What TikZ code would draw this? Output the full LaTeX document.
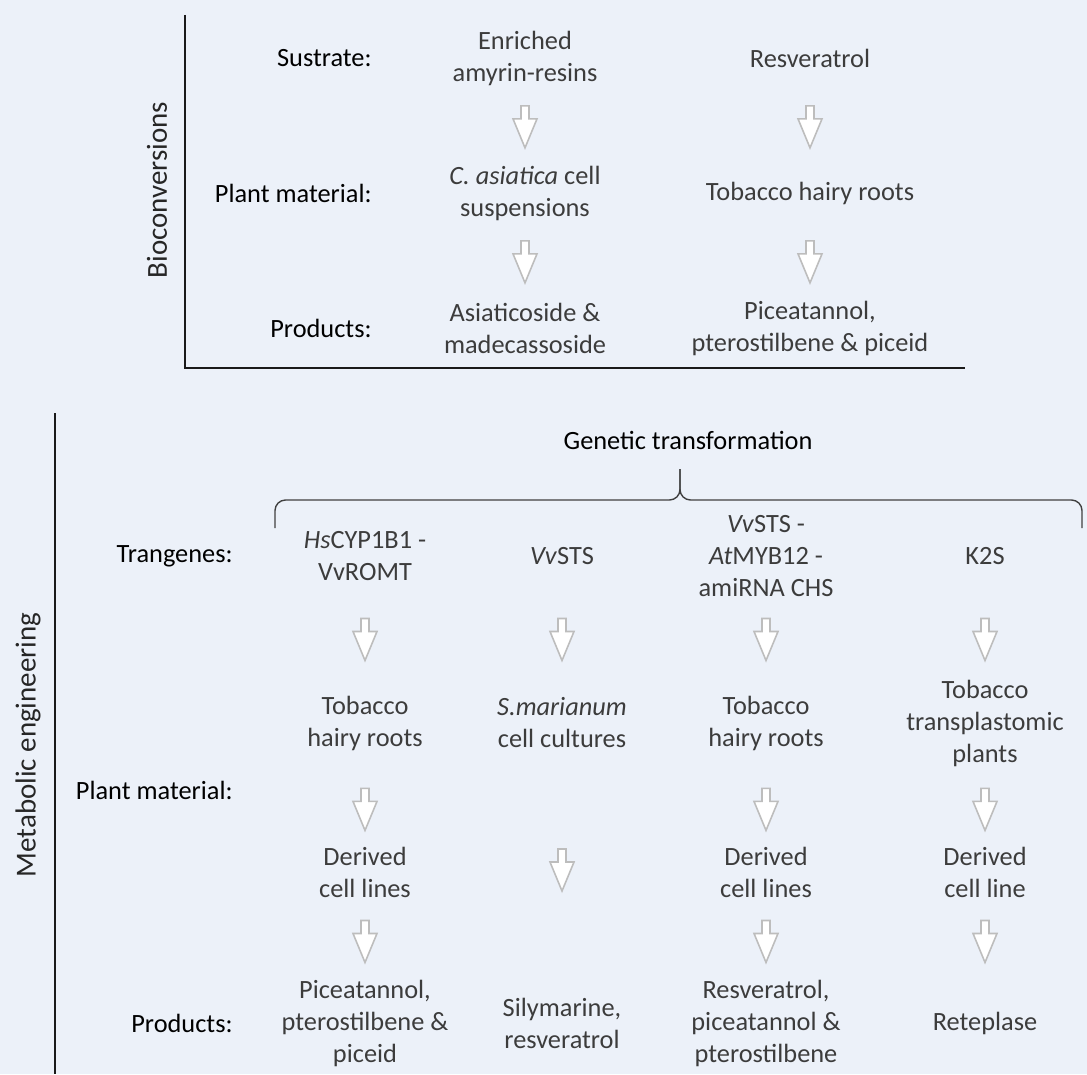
\documentclass[tikz,border=0pt]{standalone}
\usepackage{fontspec}
\setmainfont{Carlito}
\usepackage{tikz}
\usetikzlibrary{
  positioning,
  calc
}
\definecolor{bcBack}{HTML}{ECF1F9}
\definecolor{bcText}{HTML}{3C3C3C}
\definecolor{bcArrow}{HTML}{BDBDBD}
\definecolor{bcLine}{HTML}{1A1A1A}
\tikzset{
  bcnode/.style={
    inner sep=0pt, align=center, font=\fontsize{15}{18.2}\selectfont, text=bcText
  },
  rowlabel/.style={bcnode, anchor=east, text=black},
  sidelabel/.style={bcnode, rotate=90, font=\fontsize{16.5}{20}\selectfont, text=black!85},
  axisline/.style={line width=1.2pt, bcLine},
  bracket/.style={line width=0.8pt, black!75, rounded corners=6pt},
  flowarrow/.pic={
    \draw[bcArrow, fill=white, line width=0.9pt, line join=miter]
      (-4,-21) -- (4,-21) -- (4,-8) -- (12,-8) -- (0,21) -- (-12,-8) -- (-4,-8) -- cycle;
  }
}

\begin{document}
\begin{tikzpicture}[x=0.02cm, y=-0.02cm]
  \fill[bcBack] (0,0) rectangle (1087,1074);
  \useasboundingbox (0,0) rectangle (1087,1074);

  % bioconversions
  \draw[axisline] (185,15) -- (185,368) -- (965,368);
  \node[sidelabel] (bio) at (157,190) {Bioconversions};
  \node[rowlabel] (bsub) at (372,58) {Sustrate:};
  \node[rowlabel] (bmat) at (372,193) {Plant material:};
  \node[rowlabel] (bprod) at (372,328) {Products:};

  \node[bcnode] (bs1) at (525,58) {Enriched\\amyrin-resins};
  \node[bcnode] (bm1) at (525,193) {\textit{C. asiatica} cell\\suspensions};
  \node[bcnode] (bp1) at (525,328) {Asiaticoside \&\\madecassoside};
  \node[bcnode] (bs2) at (810,58) {Resveratrol};
  \node[bcnode] (bm2) at (810,193) {Tobacco hairy roots};
  \node[bcnode] (bp2) at (810,328) {Piceatannol,\\pterostilbene \& piceid};

  \pic at ($(bs1)!0.51!(bm1)$) {flowarrow};
  \pic at ($(bm1)!0.51!(bp1)$) {flowarrow};
  \pic at ($(bs2)!0.51!(bm2)$) {flowarrow};
  \pic at ($(bm2)!0.51!(bp2)$) {flowarrow};

  % metabolic engineering
  \draw[axisline] (55,413) -- (55,1074);
  \node[sidelabel] (met) at (28,745) {Metabolic engineering};
  \node[bcnode, text=black] (gen) at (688,440) {Genetic transformation};
  \draw[bracket] (275,528) -- (275,500) -- (680,500) -- (680,469);
  \draw[bracket] (680,469) -- (680,500) -- (1082,500) -- (1082,528);

  \node[rowlabel] (mtra) at (233,556) {Trangenes:};
  \node[rowlabel] (mmat) at (233,790) {Plant material:};
  \node[rowlabel] (mprod) at (233,1023) {Products:};

  \node[bcnode] (t1) at (365,556) {\textit{Hs}CYP1B1 -\\VvROMT};
  \node[bcnode] (t2) at (562,556) {\textit{Vv}STS};
  \node[bcnode] (t3) at (766,556) {\textit{Vv}STS -\\\textit{At}MYB12 -\\amiRNA CHS};
  \node[bcnode] (t4) at (985,556) {K2S};

  \node[bcnode] (m1) at (365,723) {Tobacco\\hairy roots};
  \node[bcnode] (m2) at (562,723) {\textit{S.marianum}\\cell cultures};
  \node[bcnode] (m3) at (766,723) {Tobacco\\hairy roots};
  \node[bcnode] (m4) at (985,723) {Tobacco\\transplastomic\\plants};

  \node[bcnode] (d1) at (365,872) {Derived\\cell lines};
  \node[bcnode] (d3) at (766,872) {Derived\\cell lines};
  \node[bcnode] (d4) at (985,872) {Derived\\cell line};

  \node[bcnode] (p1) at (365,1023) {Piceatannol,\\pterostilbene \&\\piceid};
  \node[bcnode] (p2) at (562,1023) {Silymarine,\\resveratrol};
  \node[bcnode] (p3) at (766,1023) {Resveratrol,\\piceatannol \&\\pterostilbene};
  \node[bcnode] (p4) at (985,1023) {Reteplase};

  \foreach \c in {1,2,3,4}
    \pic at ($(t\c)!0.5!(m\c)$) {flowarrow};
  \foreach \c in {1,3,4} {
    \pic at ($(m\c)!0.58!(d\c)$) {flowarrow};
    \pic at ($(d\c)!0.46!(p\c)$) {flowarrow};
  }
  \pic at ($(m2)!0.49!(p2)$) {flowarrow};
\end{tikzpicture}
\end{document}
